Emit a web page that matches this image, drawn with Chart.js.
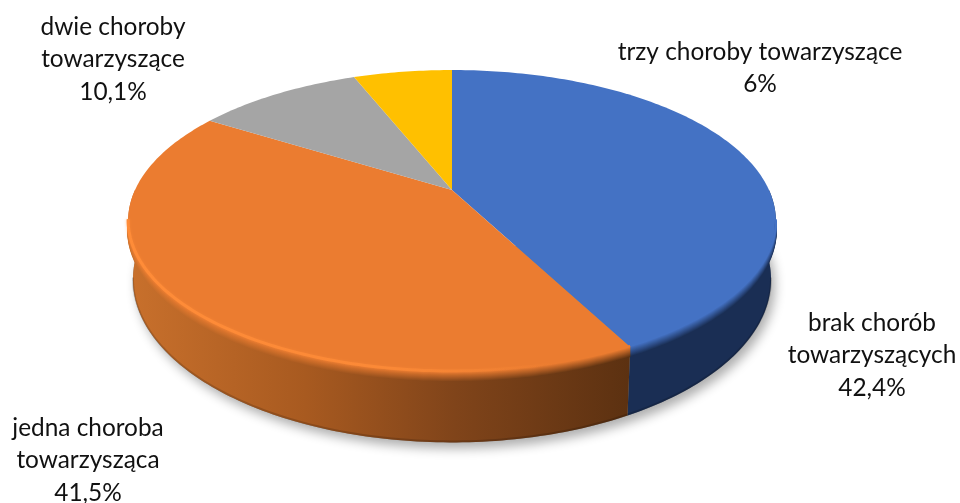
<!DOCTYPE html>
<html lang="pl">
<head>
<meta charset="utf-8">
<style>
	html, body { margin: 0; background: #fff; }
	canvas { display: block; }
</style>
<script src="https://cdn.jsdelivr.net/npm/chart.js@4"></script>
</head>
<body>
<canvas id="chart" width="960" height="503"></canvas>
<script>
const categories = ['brak chorób towarzyszących', 'jedna choroba towarzysząca', 'dwie choroby towarzyszące', 'trzy choroby towarzyszące'];
const categoryLines = [['brak chorób', 'towarzyszących'], ['jedna choroba', 'towarzysząca'], ['dwie choroby', 'towarzyszące'], ['trzy choroby towarzyszące']];
const values = [42.4, 41.5, 10.1, 6];
const colors = ['#4472C4', '#EB7C30', '#A5A5A5', '#FFC000'];

const labelAnchors = [[872, 323], [88, 428], [113, 27], [760, 52]];
const labelFont = '24.4px Lato';
const labelLeading = 32.5;

// the disc is tilted: unit circle -> screen through a perspective projection
const disc = { cx: 452, cy: 190, rx: 317, ry: 105.6, persp: -0.2053 };
const depth = 56, lowerShrink = 0.985, bevel = 10;
const tangent = Math.asin(0.2);

// side wall colours per slice, as [offset, rgb] along x from 130 to 630
const wallStops = [
	[[0, [27, 47, 85]], [1, [26, 46, 84]]],
	[[0, [200, 112, 44]], [0.35, [168, 90, 32]], [0.65, [128, 68, 26]], [1, [92, 49, 17]]],
];

function project(u, v)
{
	var w = 1 + disc.persp * v;
	return [disc.cx + disc.rx * u / w, (disc.cy + disc.ry * v) / w];
}

function lower(u, v)
{
	var p = project(u, v), w = 1 + disc.persp * v;
	return [disc.cx + (p[0] - disc.cx) * lowerShrink, p[1] + depth / w];
}

function rgbOf(hex)
{
	return [1, 3, 5].map(i => parseInt(hex.substr(i, 2), 16));
}

function mix(a, b, t)
{
	return 'rgb(' + a.map((c, i) => Math.round(c + (b[i] - c) * t)).join(',') + ')';
}

function arcPoints(a0, a1, fn)
{
	var n = Math.max(2, Math.ceil(Math.abs(a1 - a0) * 60)), out = [];
	for (var i = 0; i <= n; i++)
	{
		var a = a0 + (a1 - a0) * i / n;
		out.push(fn(Math.cos(a), Math.sin(a)));
	}
	return out;
}

function polyline(ctx, pts, shift)
{
	ctx.beginPath();
	pts.forEach((p, i) => i ? ctx.lineTo(p[0], p[1] + (shift || 0)) : ctx.moveTo(p[0], p[1] + (shift || 0)));
}

function wallGradient(ctx, stops, toColor)
{
	var g = ctx.createLinearGradient(130, 0, 630, 0);
	stops.forEach(s => g.addColorStop(s[0], toColor(s[1])));
	return g;
}

function visibleRange(el, margin)
{
	return [Math.max(el.startAngle, margin), Math.min(el.endAngle, Math.PI - margin)];
}

const solidDisc = {
	id: 'solidDisc',
	beforeDatasetsDraw(chart)
	{
		var ctx = chart.ctx, arcs = chart.getDatasetMeta(0).data;

		// soft shadow under the whole solid
		ctx.save();
		ctx.shadowColor = 'rgba(0,0,0,0.32)';
		ctx.shadowBlur = 11;
		ctx.shadowOffsetX = 4;
		ctx.shadowOffsetY = 6;
		ctx.fillStyle = '#888';
		polyline(ctx, arcPoints(0, Math.PI, lower));
		ctx.closePath();
		ctx.fill();
		ctx.restore();

		arcs.forEach((el, i) =>
		{
			var r = visibleRange(el, 0);
			if (r[1] <= r[0] || !wallStops[i])
				return;
			var top = arcPoints(r[0], r[1], project), low = arcPoints(r[1], r[0], lower);
			polyline(ctx, top.concat(low));
			ctx.closePath();
			ctx.fillStyle = wallGradient(ctx, wallStops[i], c => mix(c, c, 0));
			ctx.fill();
		});

		// route the library's own arc paths through the projection
		var el0 = arcs[0], cx = el0.x, cy = el0.y, R = el0.outerRadius;
		var map = (x, y) => project((x - cx) / R, (y - cy) / R);
		var moveTo = ctx.moveTo, lineTo = ctx.lineTo;
		ctx.moveTo = function (x, y) { var p = map(x, y); moveTo.call(ctx, p[0], p[1]); };
		ctx.lineTo = function (x, y) { var p = map(x, y); lineTo.call(ctx, p[0], p[1]); };
		ctx.arc = function (x, y, rad, a0, a1)
		{
			arcPoints(a0, a1, project).forEach(p => lineTo.call(ctx, p[0], p[1]));
		};
	},
	afterDatasetsDraw(chart)
	{
		var ctx = chart.ctx, arcs = chart.getDatasetMeta(0).data;
		delete ctx.moveTo;
		delete ctx.lineTo;
		delete ctx.arc;

		ctx.save();
		ctx.lineCap = 'butt';
		arcs.forEach((el, i) =>
		{
			var r = visibleRange(el, tangent);
			if (r[1] <= r[0] || !wallStops[i])
				return;
			var rim = arcPoints(r[0], r[1], project), face = rgbOf(colors[i]);
			ctx.lineWidth = 2;
			for (var d = bevel; d >= 0; d--)
			{
				polyline(ctx, rim, d - 1);
				ctx.strokeStyle = wallGradient(ctx, wallStops[i], c => mix(face, c, d / bevel));
				ctx.stroke();
			}
		});

		// highlight along the orange rim, dying out to the right
		var range = visibleRange(arcs[1], tangent);
		var pts = arcPoints(range[0], range[1], project);
		var glow = ctx.createLinearGradient(130, 0, 630, 0);
		glow.addColorStop(0, 'rgba(255,140,56,1)');
		glow.addColorStop(0.5, 'rgba(255,140,56,0.75)');
		glow.addColorStop(0.85, 'rgba(255,140,56,0)');
		ctx.save();
		ctx.shadowColor = 'rgba(255,140,56,0.5)';
		ctx.shadowBlur = 3;
		polyline(ctx, pts, -1);
		ctx.strokeStyle = glow;
		ctx.lineWidth = 3;
		ctx.stroke();
		ctx.restore();

		// darker foot of the wall
		arcs.forEach((el, i) =>
		{
			var r = visibleRange(el, tangent);
			if (r[1] <= r[0] || !wallStops[i])
				return;
			polyline(ctx, arcPoints(r[0], r[1], lower), -1);
			ctx.strokeStyle = 'rgba(0,0,0,0.16)';
			ctx.lineWidth = 2;
			ctx.stroke();
		});
		ctx.restore();
	},
	afterDraw(chart)
	{
		var ctx = chart.ctx;
		ctx.save();
		ctx.font = labelFont;
		ctx.fillStyle = '#111';
		ctx.textAlign = 'center';
		ctx.textBaseline = 'middle';
		values.forEach((v, i) =>
		{
			var lines = categoryLines[i].concat(String(v).replace('.', ',') + '%');
			lines.forEach((line, j) => ctx.fillText(line, labelAnchors[i][0], labelAnchors[i][1] + j * labelLeading));
		});
		ctx.restore();
	}
};

new Chart(document.getElementById('chart'), {
	type: 'pie',
	data: {
		labels: categories,
		datasets: [{ data: values, backgroundColor: colors, borderWidth: 0, clip: false }]
	},
	options: {
		responsive: false,
		animation: false,
		events: [],
		plugins: { legend: { display: false }, tooltip: { enabled: false } }
	},
	plugins: [solidDisc]
});
</script>
</body>
</html>
